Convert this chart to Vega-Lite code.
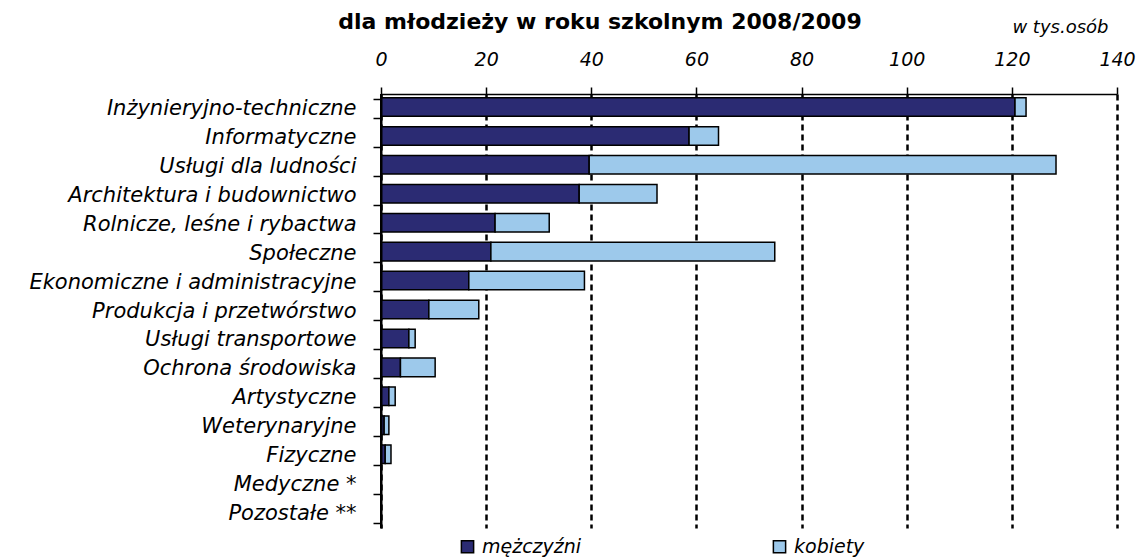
{
  "$schema": "https://vega.github.io/schema/vega-lite/v6.json",
  "width": 736,
  "height": 434,
  "autosize": {"type": "none"},
  "padding": {"left": 381, "top": 94, "right": 19, "bottom": 30},
  "background": "white",
  "title": {
    "text": "dla młodzieży w roku szkolnym 2008/2009",
    "font": "DejaVu Sans",
    "fontSize": 22,
    "fontWeight": "bold",
    "color": "black",
    "anchor": "middle",
    "frame": "group",
    "dx": -149,
    "offset": 0,
    "dy": 16
  },
  "data": {
    "values": [
      {"kategoria": "Inżynieryjno-techniczne", "plec": "mężczyźni", "wartosc": 120.6},
      {"kategoria": "Inżynieryjno-techniczne", "plec": "kobiety", "wartosc": 2.1},
      {"kategoria": "Informatyczne", "plec": "mężczyźni", "wartosc": 58.6},
      {"kategoria": "Informatyczne", "plec": "kobiety", "wartosc": 5.6},
      {"kategoria": "Usługi dla ludności", "plec": "mężczyźni", "wartosc": 39.6},
      {"kategoria": "Usługi dla ludności", "plec": "kobiety", "wartosc": 88.8},
      {"kategoria": "Architektura i budownictwo", "plec": "mężczyźni", "wartosc": 37.7},
      {"kategoria": "Architektura i budownictwo", "plec": "kobiety", "wartosc": 14.8},
      {"kategoria": "Rolnicze, leśne i rybactwa", "plec": "mężczyźni", "wartosc": 21.7},
      {"kategoria": "Rolnicze, leśne i rybactwa", "plec": "kobiety", "wartosc": 10.3},
      {"kategoria": "Społeczne", "plec": "mężczyźni", "wartosc": 20.9},
      {"kategoria": "Społeczne", "plec": "kobiety", "wartosc": 54.0},
      {"kategoria": "Ekonomiczne i administracyjne", "plec": "mężczyźni", "wartosc": 16.7},
      {"kategoria": "Ekonomiczne i administracyjne", "plec": "kobiety", "wartosc": 22.0},
      {"kategoria": "Produkcja i przetwórstwo", "plec": "mężczyźni", "wartosc": 9.1},
      {"kategoria": "Produkcja i przetwórstwo", "plec": "kobiety", "wartosc": 9.5},
      {"kategoria": "Usługi transportowe", "plec": "mężczyźni", "wartosc": 5.3},
      {"kategoria": "Usługi transportowe", "plec": "kobiety", "wartosc": 1.2},
      {"kategoria": "Ochrona środowiska", "plec": "mężczyźni", "wartosc": 3.7},
      {"kategoria": "Ochrona środowiska", "plec": "kobiety", "wartosc": 6.6},
      {"kategoria": "Artystyczne", "plec": "mężczyźni", "wartosc": 1.5},
      {"kategoria": "Artystyczne", "plec": "kobiety", "wartosc": 1.2},
      {"kategoria": "Weterynaryjne", "plec": "mężczyźni", "wartosc": 0.6},
      {"kategoria": "Weterynaryjne", "plec": "kobiety", "wartosc": 0.9},
      {"kategoria": "Fizyczne", "plec": "mężczyźni", "wartosc": 0.8},
      {"kategoria": "Fizyczne", "plec": "kobiety", "wartosc": 1.1},
      {"kategoria": "Medyczne *", "plec": "mężczyźni", "wartosc": 0},
      {"kategoria": "Medyczne *", "plec": "kobiety", "wartosc": 0},
      {"kategoria": "Pozostałe **", "plec": "mężczyźni", "wartosc": 0},
      {"kategoria": "Pozostałe **", "plec": "kobiety", "wartosc": 0}
    ]
  },
  "layer": [
    {
      "mark": {"type": "bar", "stroke": "black", "strokeWidth": 1.5, "yOffset": -1.5},
      "encoding": {
        "y": {
          "field": "kategoria",
          "type": "nominal",
          "sort": null,
          "scale": {"paddingInner": 0.36, "paddingOuter": 0.18},
          "axis": {
            "title": null,
            "domain": true,
            "zindex": 2,
            "tickBand": "extent",
            "tickSize": 8,
            "tickColor": "black",
            "tickWidth": 1.5,
            "domainColor": "black",
            "domainWidth": 2,
            "labelFont": "DejaVu Sans",
            "labelFontStyle": "italic",
            "labelFontSize": 21,
            "labelColor": "black",
            "labelPadding": 17,
            "labelLimit": 400
          }
        },
        "x": {
          "field": "wartosc",
          "type": "quantitative",
          "stack": "zero",
          "scale": {"domain": [0, 140], "nice": false},
          "axis": {
            "orient": "top",
            "values": [0, 20, 40, 60, 80, 100, 120, 140],
            "title": "w tys.osób",
            "titleFont": "DejaVu Sans",
            "titleFontStyle": "italic",
            "titleFontWeight": "normal",
            "titleFontSize": 18,
            "titleColor": "black",
            "titleX": 727,
            "titleY": -67,
            "titleAlign": "right",
            "titleBaseline": "middle",
            "labelFont": "DejaVu Sans",
            "labelFontStyle": "italic",
            "labelFontSize": 19,
            "labelColor": "black",
            "labelBaseline": "middle",
            "labelPadding": 28,
            "labelFlush": false,
            "tickSize": 7,
            "tickColor": "black",
            "tickWidth": 1.5,
            "domainColor": "black",
            "domainWidth": 1.5,
            "grid": true,
            "gridColor": "black",
            "gridDash": [6, 4],
            "gridWidth": 2.5
          }
        },
        "color": {
          "field": "plec",
          "type": "nominal",
          "scale": {"domain": ["mężczyźni", "kobiety"], "range": ["#2B2B73", "#9DC9EB"]},
          "legend": {
            "title": null,
            "orient": "none",
            "legendX": 77,
            "legendY": 443,
            "direction": "horizontal",
            "symbolType": "square",
            "symbolSize": 150,
            "symbolStrokeColor": "black",
            "symbolStrokeWidth": 1.5,
            "labelFont": "DejaVu Sans",
            "labelFontStyle": "italic",
            "labelFontSize": 19,
            "labelColor": "black",
            "labelOffset": 5,
            "columnPadding": 188,
            "padding": 0
          }
        },
        "order": {"field": "plec", "sort": "descending"}
      }
    },
    {
      "mark": {"type": "rule", "color": "black", "strokeWidth": 2},
      "encoding": {"x": {"datum": 0, "type": "quantitative"}}
    }
  ],
  "config": {"view": {"stroke": null}}
}
